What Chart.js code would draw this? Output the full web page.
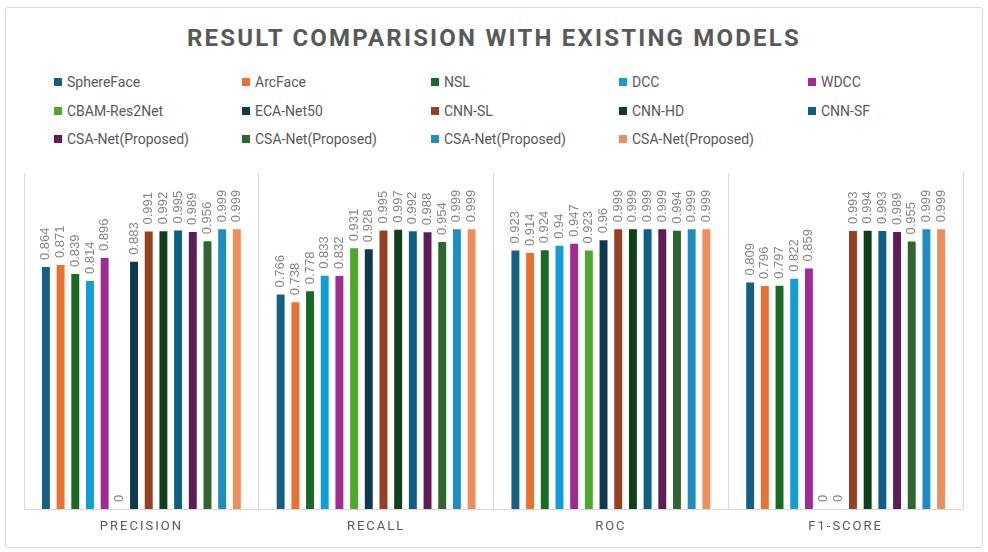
<!DOCTYPE html>
<html>

<head>
    <title>Result comparision</title>
    <meta name="viewport" content="width=device-width, initial-scale=1.0">
    <script src="https://cdn.jsdelivr.net/npm/chart.js@4.4.1/dist/chart.umd.min.js"></script>
    <style>
        html, body { margin: 0; padding: 0; background: #fff; }
        body { width: 988px; height: 552px; position: relative; overflow: hidden; font-family: Roboto, sans-serif; }
        .frame { position: absolute; left: 5px; top: 7px; width: 976px; height: 539px; border: 1px solid #d9d9d9; border-radius: 3px; }
        .title { position: absolute; left: 0; top: 26px; width: 988px; text-align: center; font: bold 24px/24px Roboto, sans-serif; letter-spacing: 2.2px; color: #595959; }
        .legend-item { position: absolute; height: 16px; display: flex; align-items: center; font-size: 14px; color: #595959; white-space: nowrap; }
        .legend-item span.box { width: 8px; height: 8px; margin-right: 5px; display: inline-block; }
        #chart { position: absolute; left: 0; top: 0; }
    </style>
</head>

<body>
    <div class="frame"></div>
    <div class="title">RESULT COMPARISION WITH EXISTING MODELS</div>
    <div id="legend"></div>
    <canvas id="chart" width="988" height="552"></canvas>

    <script>
        // Nhóm trên trục x
        const categories = ['PRECISION', 'RECALL', 'ROC', 'F1-SCORE'];

        // Các mô hình (mỗi mô hình là một series)
        const models = ['SphereFace', 'ArcFace', 'NSL', 'DCC', 'WDCC',
            'CBAM-Res2Net', 'ECA-Net50', 'CNN-SL', 'CNN-HD', 'CNN-SF',
            'CSA-Net(Proposed)', 'CSA-Net(Proposed)', 'CSA-Net(Proposed)', 'CSA-Net(Proposed)'];

        const modelColors = ['#156082', '#E97132', '#196B24', '#0F9ED5', '#A02B93',
            '#4EA72E', '#0D3A4E', '#954020', '#10401A', '#0E5F83',
            '#5F1D58', '#2F6630', '#1F8DC0', '#ED8E5C'];

        // Giá trị theo từng chỉ số, theo thứ tự models
        const precision = [0.864, 0.871, 0.839, 0.814, 0.896, 0, 0.883, 0.991, 0.992, 0.995, 0.989, 0.956, 0.999, 0.999];
        const recall = [0.766, 0.738, 0.778, 0.833, 0.832, 0.931, 0.928, 0.995, 0.997, 0.992, 0.988, 0.954, 0.999, 0.999];
        const roc = [0.923, 0.914, 0.924, 0.94, 0.947, 0.923, 0.96, 0.999, 0.999, 0.999, 0.999, 0.994, 0.999, 0.999];
        const f1 = [0.809, 0.796, 0.797, 0.822, 0.859, 0, 0, 0.993, 0.994, 0.993, 0.989, 0.955, 0.999, 0.999];

        // Chú thích dạng lưới 5 cột
        const legendBox = document.getElementById('legend');
        const colX = [54, 242, 431, 619, 808];
        const rowY = [74, 103, 131];
        models.forEach(function (name, i) {
            const item = document.createElement('div');
            item.className = 'legend-item';
            item.style.left = colX[i % 5] + 'px';
            item.style.top = rowY[Math.floor(i / 5)] + 'px';
            item.innerHTML = '<span class="box" style="background:' + modelColors[i] + '"></span>' + name;
            legendBox.appendChild(item);
        });

        var datasets = models.map(function (name, i) {
            return {
                label: name,
                data: [precision[i], recall[i], roc[i], f1[i]],
                backgroundColor: modelColors[i],
                borderWidth: 0,
                categoryPercentage: 0.876,
                barPercentage: 0.54
            };
        });

        // Giãn chữ cho nhãn trục x
        const spacing = {
            id: 'spacing',
            beforeDraw(chart) { chart.ctx.letterSpacing = '2px'; },
            beforeDatasetsDraw(chart) { chart.ctx.letterSpacing = '0px'; }
        };

        // Nhãn giá trị xoay dọc trên mỗi cột
        const barLabels = {
            id: 'barLabels',
            afterDatasetsDraw(chart) {
                const ctx = chart.ctx;
                ctx.save();
                ctx.font = '13px "Liberation Sans", Arial, sans-serif';
                ctx.fillStyle = '#858585';
                ctx.textAlign = 'left';
                ctx.textBaseline = 'middle';
                chart.data.datasets.forEach(function (ds, i) {
                    chart.getDatasetMeta(i).data.forEach(function (bar, j) {
                        ctx.save();
                        ctx.translate(bar.x, bar.y - 7);
                        ctx.rotate(-Math.PI / 2);
                        ctx.fillText(String(ds.data[j]), 0, 0);
                        ctx.restore();
                    });
                });
                ctx.restore();
            }
        };

        new Chart(document.getElementById('chart'), {
            type: 'bar',
            data: { labels: categories, datasets: datasets },
            options: {
                responsive: false,
                animation: false,
                layout: { padding: { top: 173, left: 24, right: 25, bottom: 0 } },
                plugins: {
                    legend: { display: false },
                    tooltip: { enabled: false }
                },
                scales: {
                    x: {
                        grid: { offset: true, color: '#d9d9d9', drawTicks: false },
                        border: { color: '#d9d9d9' },
                        ticks: { color: '#595959', font: { family: 'Roboto', size: 13 }, padding: 10 },
                        afterFit: function (s) { s.height = 43; }
                    },
                    y: { display: false, min: 0, max: 1.2 }
                }
            },
            plugins: [spacing, barLabels]
        });
    </script>
</body>

</html>
